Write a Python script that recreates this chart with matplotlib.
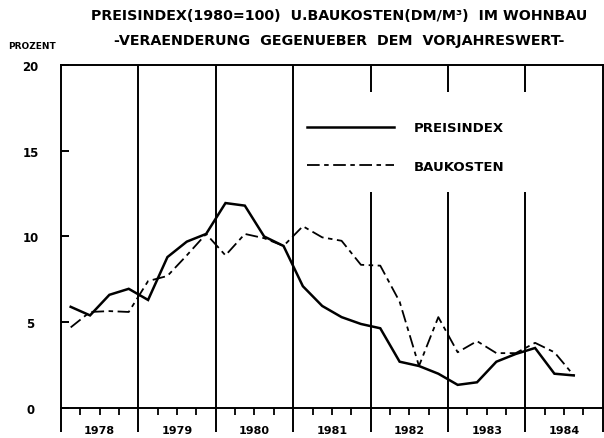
import matplotlib
matplotlib.use("Agg")
import matplotlib.pyplot as plt
import numpy as np

plt.rcParams['font.family'] = ['DejaVu Sans']
plt.rcParams['font.weight'] = 'bold'

# quarterly values 1978 Q1 .. 1984 Q3
years = list(range(1978, 1985))
preisindex = [5.9, 5.4, 6.6, 6.95,
              6.3, 8.8, 9.7, 10.15,
              11.95, 11.8, 10.0, 9.45,
              7.1, 5.95, 5.3, 4.9,
              4.65, 2.7, 2.45, 2.0,
              1.35, 1.5, 2.7, 3.15,
              3.5, 2.0, 1.9]
baukosten = [4.7, 5.6, 5.65, 5.6,
             7.4, 7.7, 8.9, 10.15,
             8.9, 10.15, 9.9, 9.45,
             10.6, 9.95, 9.75, 8.35,
             8.3, 6.2, 2.45, 5.3,
             3.25, 3.9, 3.2, 3.2,
             3.8, 3.25, 1.9]
yticks = [0, 5, 10, 15, 20]

x = 1978 + (np.arange(len(preisindex)) + 0.5) / 4

fig = plt.figure(figsize=(6.04, 4.39), dpi=100)
ax = fig.add_axes([0.101, 0.0683, 0.897, 0.7814])

# year separators (broken where the legend sits)
for yr in years[1:]:
    if yr >= 1982:
        ax.vlines(yr, 0, 12.6, color='black', lw=1.4, zorder=1)
        ax.vlines(yr, 18.4, 20, color='black', lw=1.4, zorder=1)
    else:
        ax.vlines(yr, 0, 20, color='black', lw=1.4, zorder=1)

ax.plot(x, preisindex, color='black', lw=1.8, label='PREISINDEX',
        solid_joinstyle='miter', zorder=3)
ax.plot(x, baukosten, color='black', lw=1.3, linestyle=(0, (7, 2.5, 2.5, 2.5)),
        label='BAUKOSTEN', zorder=3)

ax.set_xlim(1978, 1985)
ax.set_ylim(0, 20)

ax.set_yticks(yticks)
ax.set_yticklabels([str(v) for v in yticks], fontsize=8.5, fontweight='bold')
ax.tick_params(axis='y', direction='in', length=6, width=1.4, pad=22)
for lab in ax.get_yticklabels():
    lab.set_horizontalalignment('center')

ax.set_xticks(years + [1985])
ax.set_xticklabels([])
ax.tick_params(axis='x', which='major', direction='out', length=17, width=1.4)
quarters = [yr + q / 4 for yr in years for q in (1, 2, 3)]
ax.set_xticks(quarters, minor=True)
ax.set_xticklabels([str(int(v)) if (v * 4) % 4 == 2 else '' for v in quarters],
                   minor=True, fontsize=8, fontweight='bold')
ax.tick_params(axis='x', which='minor', direction='out', length=5, width=1.3, pad=7)

for sp in ax.spines.values():
    sp.set_linewidth(1.4)

leg = ax.legend(loc='upper left', bbox_to_anchor=(0.432, 0.87), frameon=False,
                handlelength=6.6, handletextpad=1.5, labelspacing=1.9,
                prop={'size': 9.5, 'weight': 'bold'})

fig.text(0.561, 0.963, 'PREISINDEX(1980=100)  U.BAUKOSTEN(DM/M³)  IM WOHNBAU',
         ha='center', va='center', fontsize=10.3, fontweight='bold')
fig.text(0.561, 0.906, '-VERAENDERUNG  GEGENUEBER  DEM  VORJAHRESWERT-',
         ha='center', va='center', fontsize=10.3, fontweight='bold')
fig.text(0.013, 0.893, 'PROZENT', ha='left', va='center', fontsize=6.5,
         fontweight='bold')

fig.savefig('out.png', dpi=100)
